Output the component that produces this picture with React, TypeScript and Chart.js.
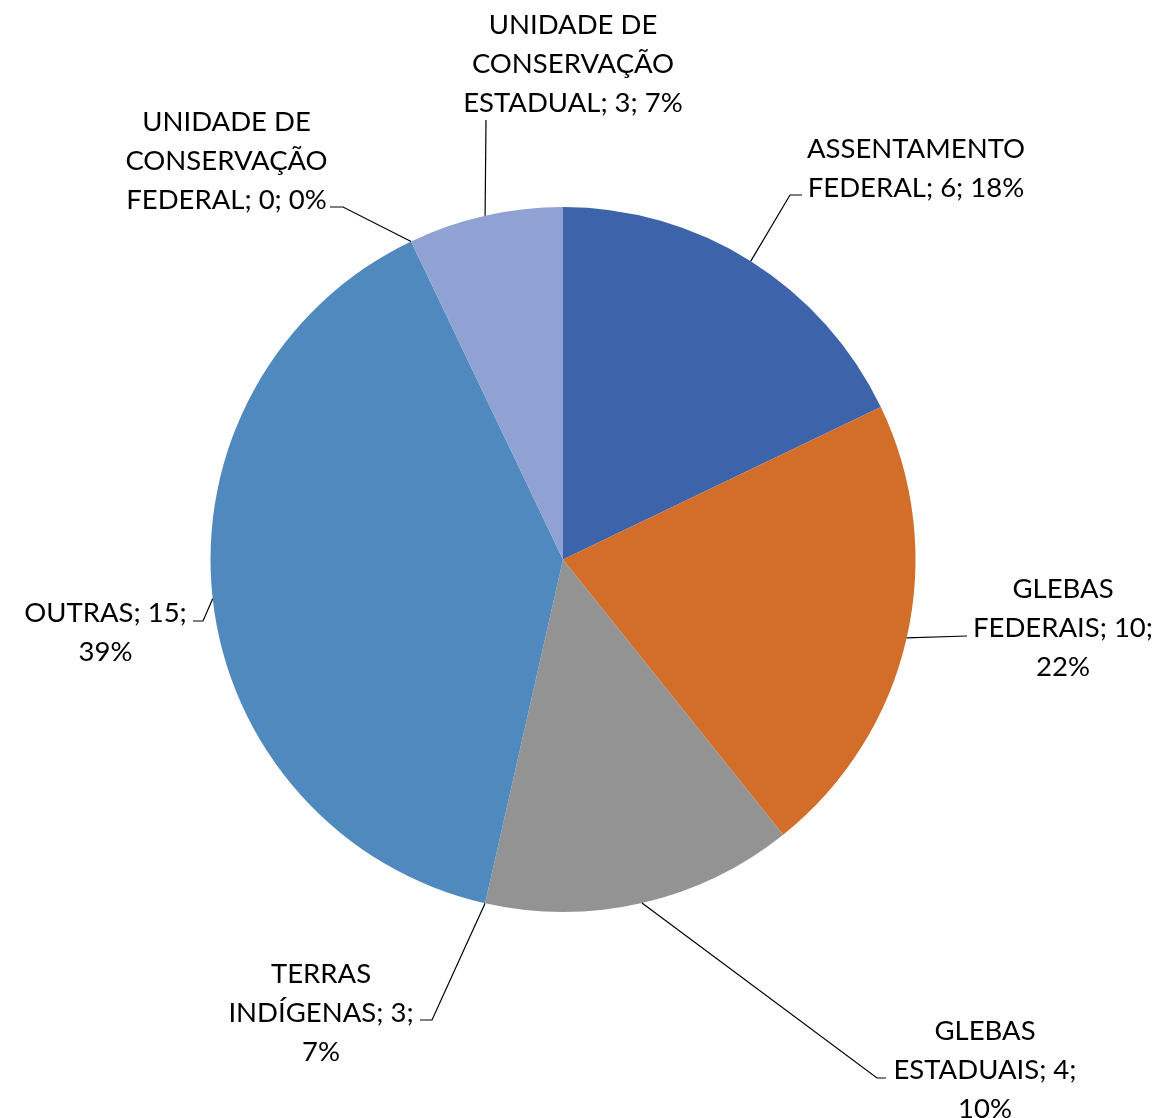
import React, { useEffect, useRef } from "react";
import { Chart, registerables } from "chart.js";

Chart.register(...registerables);

// ---- data ----
const categories = [
  "ASSENTAMENTO FEDERAL",
  "GLEBAS FEDERAIS",
  "GLEBAS ESTADUAIS",
  "TERRAS INDÍGENAS",
  "OUTRAS",
  "UNIDADE DE CONSERVAÇÃO FEDERAL",
  "UNIDADE DE CONSERVAÇÃO ESTADUAL",
];
const counts = [6, 10, 4, 3, 15, 0, 3];
const percents = [18, 22, 10, 7, 39, 0, 7];
// slice sizes as drawn in the picture (share of the circle, %)
const sliceShares = [17.9, 21.4, 14.3, 0, 39.4, 0, 7.1];

// ---- styles ----
const sliceColors = [
  "#3D64AB",
  "#D36E2A",
  "#939393",
  "#E6A628",
  "#4F89BD",
  "#2E4A7E",
  "#8FA2D3",
];

// label layout: label block centre relative to pie centre, leader elbow/end relative to label centre,
// and number of words per wrapped line
const labelLayout = [
  { dx: 353, dy: -393, elbow: [-126, 28.5], end: [-114, 28.5], words: [1, 3] },
  { dx: 500, dy: 66.5, elbow: [-96, 10], end: [-96, 10], words: [1, 2, 1] },
  { dx: 422, dy: 508.5, elbow: [-108, 10], end: [-99, 10], words: [1, 2, 1] },
  { dx: -242, dy: 451.5, elbow: [111, 9], end: [99, 9], words: [1, 2, 1] },
  { dx: -457.5, dy: 71, elbow: [97.5, -9.5], end: [87.5, -9.5], words: [2, 1] },
  { dx: -336.5, dy: -400.5, elbow: [116.5, 48], end: [103.5, 48], words: [2, 1, 3] },
  { dx: 10, dy: -497.5, elbow: [-87, 58], end: [-87, 58], words: [2, 1, 3] },
];

const FONT = '27.5px Lato, "Noto Sans", sans-serif';
const LINE_H = 39;
const TEXT_SHIFT_Y = 2;

function wrapLabel(text: string, words: number[]): string[] {
  const parts = text.split(" ");
  const lines: string[] = [];
  let k = 0;
  for (const n of words) {
    lines.push(parts.slice(k, k + n).join(" "));
    k += n;
  }
  if (k < parts.length) lines.push(parts.slice(k).join(" "));
  return lines;
}

const pieLabels = {
  id: "pieLabels",
  afterDatasetsDraw(chart: any) {
    const meta = chart.getDatasetMeta(0);
    const ctx = chart.ctx as CanvasRenderingContext2D;
    ctx.save();
    meta.data.forEach((arc: any, i: number) => {
      const { x, y, startAngle, endAngle, outerRadius } = arc.getProps(
        ["x", "y", "startAngle", "endAngle", "outerRadius"],
        true
      );
      const mid = (startAngle + endAngle) / 2;
      const ax = x + Math.cos(mid) * outerRadius;
      const ay = y + Math.sin(mid) * outerRadius;
      const L = labelLayout[i];
      const cx = x + L.dx;
      const cy = y + L.dy;
      ctx.strokeStyle = "#000000";
      ctx.lineWidth = 1.2;
      ctx.beginPath();
      ctx.moveTo(ax, ay);
      ctx.lineTo(cx + L.elbow[0], cy + L.elbow[1]);
      ctx.lineTo(cx + L.end[0], cy + L.end[1]);
      ctx.stroke();

      const text = `${categories[i]}; ${counts[i]}; ${percents[i]}%`;
      const lines = wrapLabel(text, L.words);
      ctx.font = FONT;
      ctx.fillStyle = "#000000";
      ctx.textAlign = "center";
      ctx.textBaseline = "middle";
      lines.forEach((ln, j) => {
        const ly = cy + TEXT_SHIFT_Y + (j - (lines.length - 1) / 2) * LINE_H;
        ctx.fillText(ln, cx, ly);
      });
    });
    ctx.restore();
  },
};

export default function App() {
  const ref = useRef<HTMLCanvasElement | null>(null);
  useEffect(() => {
    if (!ref.current) return;
    const chart = new Chart(ref.current, {
      type: "pie",
      data: {
        labels: categories,
        datasets: [
          {
            data: sliceShares,
            backgroundColor: sliceColors,
            borderWidth: 0,
          },
        ],
      },
      options: {
        responsive: false,
        animation: false,
        devicePixelRatio: 1,
        layout: { padding: { left: 210.5, right: 244.5, top: 207, bottom: 206 } },
        plugins: {
          legend: { display: false },
          tooltip: { enabled: false },
        },
      },
      plugins: [pieLabels],
    });
    return () => chart.destroy();
  }, []);
  return (
    <div style={{ position: "absolute", left: 0, top: 0, width: 1160, height: 1118, background: "#ffffff" }}>
      <canvas ref={ref} width={1160} height={1118} style={{ display: "block" }} />
    </div>
  );
}
